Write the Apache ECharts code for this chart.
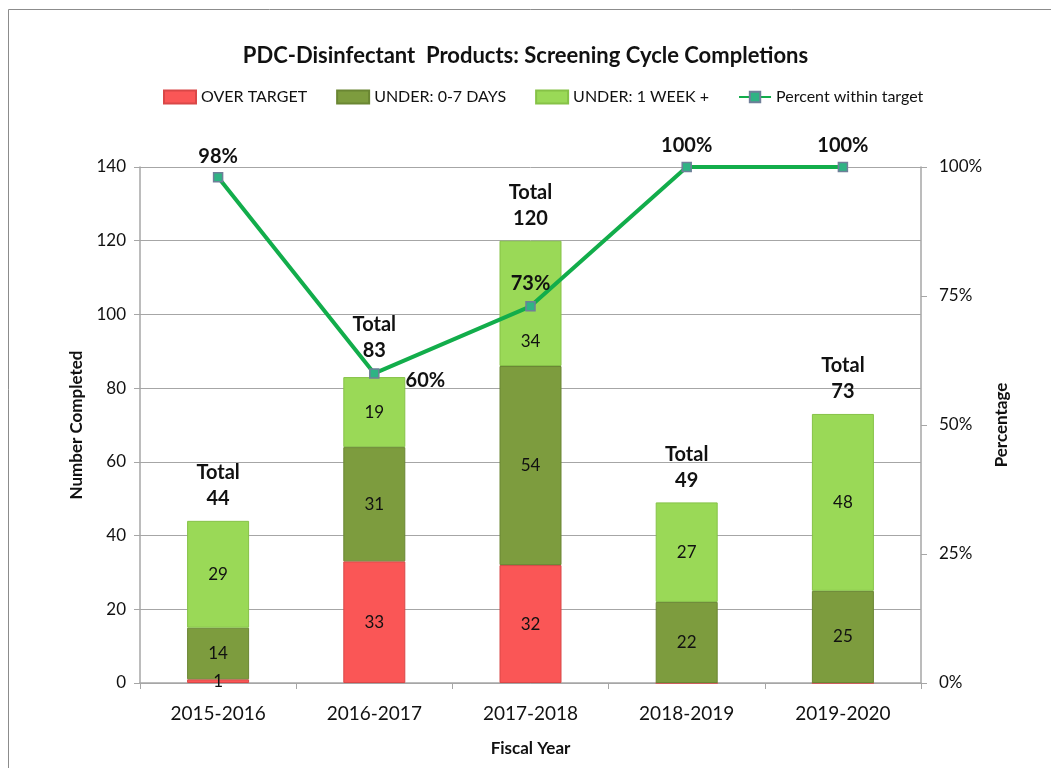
<!DOCTYPE html>
<html>
<head>
<meta charset="utf-8">
<script src="https://cdn.jsdelivr.net/npm/echarts@6/dist/echarts.min.js"></script>
<style>
  html, body { margin: 0; padding: 0; background: #fff; }
  #chart { width: 1051px; height: 768px; }
</style>
</head>
<body>
<div id="chart"></div>
<script>
// Fiscal years on the category axis
const fiscalYears = ['2015-2016', '2016-2017', '2017-2018', '2018-2019', '2019-2020'];
// Stacked counts per completion bucket
const overTarget = [1, 33, 32, 0, 0];
const underWeek = [14, 31, 54, 22, 25];
const underWeekPlus = [29, 19, 34, 27, 48];
// Totals shown above each stack
const totals = [44, 83, 120, 49, 73];
// Percent of screenings completed within target
const percentWithin = [98, 60, 73, 100, 100];

const FONT = 'Lato, "Open Sans", sans-serif';

const chart = echarts.init(document.getElementById('chart'));

function valueLabel() {
  return {
    show: true,
    position: 'inside',
    color: '#111',
    fontFamily: FONT,
    fontSize: 17,
    formatter: p => (p.value ? String(p.value) : '')
  };
}

const barBase = {
  type: 'bar',
  stack: 'count',
  barWidth: 62,
  yAxisIndex: 0
};

// Where each percentage label sits relative to its point
const pctLabelPos = [
  { position: 'top', distance: 6 },
  { position: 'right', distance: 26, offset: [0, 7] },
  { position: 'top', distance: 8 },
  { position: 'top', distance: 6 },
  { position: 'top', distance: 6 }
];

// Top segment labels; the 2017-2018 one is nudged below the line label
const weekPlusData = underWeekPlus.map((v, i) =>
  i === 2 ? { value: v, label: { offset: [0, 38] } } : v
);

// Total caps; the 2016-2017 one is lifted clear of the line marker
const totalCaps = totals.map((t, i) =>
  i === 1 ? { value: 0, label: { offset: [0, -5] } } : 0
);

chart.setOption({
  animation: false,
  backgroundColor: '#fff',
  textStyle: { fontFamily: FONT },
  graphic: [{
    type: 'rect',
    shape: { x: 8.5, y: 9.5, width: 1060, height: 780 },
    style: { fill: 'none', stroke: '#8c8c8c', lineWidth: 1 },
    silent: true,
    z: -10
  }],
  title: {
    text: 'PDC-Disinfectant  Products: Screening Cycle Completions',
    left: 'center',
    top: 40,
    textStyle: { fontFamily: FONT, fontSize: 22, fontWeight: 'bold', color: '#111' }
  },
  legend: {
    top: 84,
    left: 158,
    itemWidth: 32,
    itemHeight: 13,
    itemGap: 29,
    textStyle: { fontFamily: FONT, fontSize: 16, color: '#111' },
    data: [
      { name: 'OVER TARGET', icon: 'rect' },
      { name: 'UNDER: 0-7 DAYS', icon: 'rect' },
      { name: 'UNDER: 1 WEEK +', icon: 'rect' },
      { name: 'Percent within target' }
    ]
  },
  grid: { left: 140, right: 130, top: 167, bottom: 85 },
  xAxis: {
    type: 'category',
    data: fiscalYears,
    name: 'Fiscal Year',
    nameLocation: 'middle',
    nameGap: 57,
    nameTextStyle: { fontFamily: FONT, fontSize: 17, fontWeight: 'bold', color: '#111' },
    axisLine: { lineStyle: { color: '#a6a6a6', width: 1.5 } },
    axisTick: { show: true, alignWithLabel: false, length: 6, lineStyle: { color: '#a6a6a6' } },
    axisLabel: { fontFamily: FONT, fontSize: 19, color: '#111', margin: 21 }
  },
  yAxis: [{
    type: 'value',
    min: 0,
    max: 140,
    interval: 20,
    name: 'Number Completed',
    nameLocation: 'middle',
    nameRotate: 90,
    nameGap: 55,
    nameTextStyle: { fontFamily: FONT, fontSize: 17, fontWeight: 'bold', color: '#111' },
    axisLine: { show: true, lineStyle: { color: '#a6a6a6', width: 1.5 } },
    axisTick: { show: true, length: 6, lineStyle: { color: '#a6a6a6' } },
    axisLabel: { fontFamily: FONT, fontSize: 17, color: '#111', margin: 14 },
    splitLine: { lineStyle: { color: '#a6a6a6', width: 1 } }
  }, {
    type: 'value',
    min: 0,
    max: 100,
    interval: 25,
    name: 'Percentage',
    nameLocation: 'middle',
    nameRotate: 90,
    nameGap: 70,
    nameTextStyle: { fontFamily: FONT, fontSize: 17, fontWeight: 'bold', color: '#111' },
    axisLine: { show: true, lineStyle: { color: '#a6a6a6', width: 1.5 } },
    axisTick: { show: true, length: 6, lineStyle: { color: '#a6a6a6' } },
    axisLabel: { fontFamily: FONT, fontSize: 17, color: '#111', margin: 18, formatter: '{value}%' },
    splitLine: { show: false }
  }],
  series: [
    Object.assign({}, barBase, {
      name: 'OVER TARGET',
      data: overTarget,
      itemStyle: { color: '#fa5656', borderColor: '#d94747', borderWidth: 1 },
      label: valueLabel()
    }),
    Object.assign({}, barBase, {
      name: 'UNDER: 0-7 DAYS',
      data: underWeek,
      itemStyle: { color: '#7d9c3e', borderColor: '#6a8633', borderWidth: 1 },
      label: valueLabel()
    }),
    Object.assign({}, barBase, {
      name: 'UNDER: 1 WEEK +',
      data: weekPlusData,
      itemStyle: { color: '#9ad957', borderColor: '#86c247', borderWidth: 1 },
      label: valueLabel()
    }),
    {
      // Invisible zero-height stack cap carrying the total labels
      name: 'Total',
      type: 'bar',
      stack: 'count',
      barWidth: 62,
      data: totalCaps,
      itemStyle: { color: 'transparent' },
      silent: true,
      label: {
        show: true,
        position: 'top',
        distance: 9,
        fontFamily: FONT,
        fontSize: 20,
        fontWeight: 'bold',
        lineHeight: 26,
        color: '#111',
        formatter: p => 'Total\n' + totals[p.dataIndex]
      }
    },
    {
      name: 'Percent within target',
      type: 'line',
      yAxisIndex: 1,
      z: 5,
      data: percentWithin.map((v, i) => ({
        value: v,
        label: pctLabelPos[i]
      })),
      lineStyle: { color: '#12ad4b', width: 4 },
      itemStyle: { color: '#2fb384', borderColor: '#6f7f99', borderWidth: 1.5 },
      symbol: 'rect',
      symbolSize: 9,
      label: {
        show: true,
        fontFamily: FONT,
        fontSize: 20,
        fontWeight: 'bold',
        color: '#111',
        formatter: '{c}%'
      }
    }
  ]
});
</script>
</body>
</html>
